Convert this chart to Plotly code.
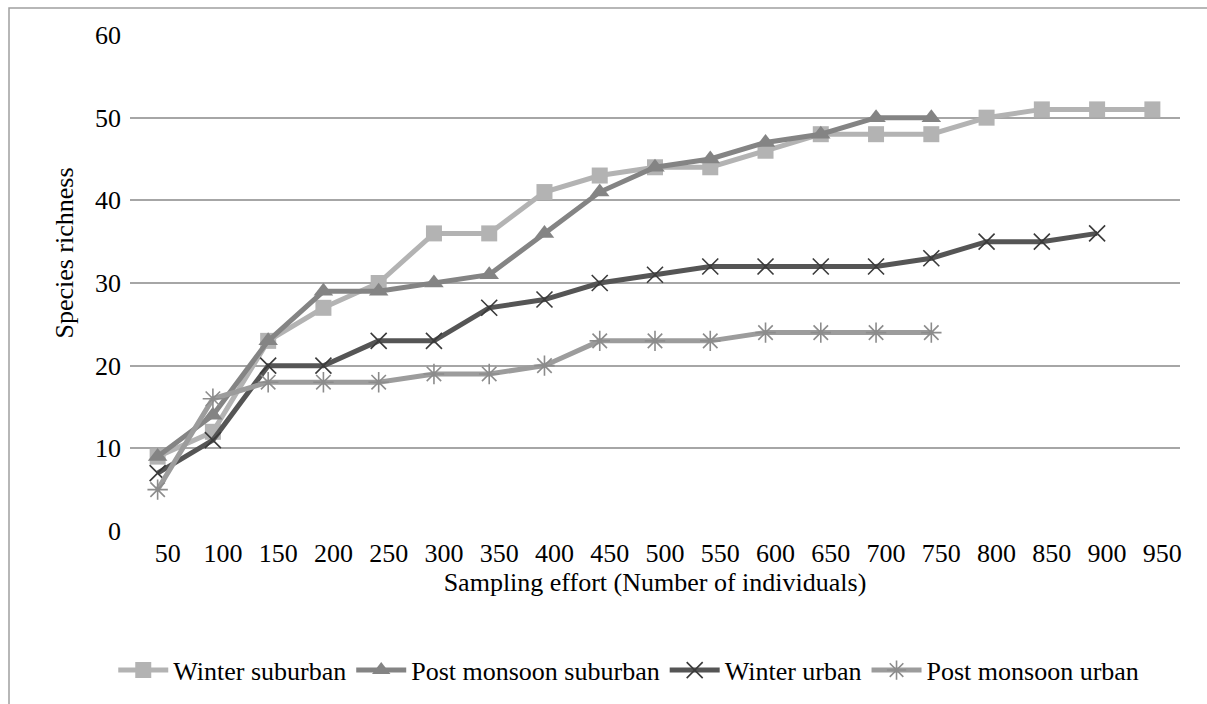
import plotly.graph_objects as go

effort = [50, 100, 150, 200, 250, 300, 350, 400, 450, 500, 550, 600, 650, 700, 750, 800, 850, 900, 950]

winter_suburban = [9, 12, 23, 27, 30, 36, 36, 41, 43, 44, 44, 46, 48, 48, 48, 50, 51, 51, 51]
post_monsoon_suburban = [9, 14, 23, 29, 29, 30, 31, 36, 41, 44, 45, 47, 48, 50, 50]
winter_urban = [7, 11, 20, 20, 23, 23, 27, 28, 30, 31, 32, 32, 32, 32, 33, 35, 35, 36]
post_monsoon_urban = [5, 16, 18, 18, 18, 19, 19, 20, 23, 23, 23, 24, 24, 24, 24]

y_ticks = [0, 10, 20, 30, 40, 50, 60]

FONT = "'Times New Roman', 'Liberation Serif', 'DejaVu Serif', serif"

fig = go.Figure()

fig.add_trace(go.Scatter(
    x=effort[:len(winter_suburban)], y=winter_suburban, name="Winter suburban",
    mode="lines+markers",
    line=dict(color="#b3b3b3", width=5),
    marker=dict(symbol="square", size=16, color="#b3b3b3", line=dict(width=0)),
))
fig.add_trace(go.Scatter(
    x=effort[:len(post_monsoon_suburban)], y=post_monsoon_suburban, name="Post monsoon suburban",
    mode="lines+markers",
    line=dict(color="#848484", width=5),
    marker=dict(symbol="triangle-up", size=17, color="#848484", line=dict(width=0)),
))
fig.add_trace(go.Scatter(
    x=effort[:len(winter_urban)], y=winter_urban, name="Winter urban",
    mode="lines+markers",
    line=dict(color="#555555", width=5),
    marker=dict(symbol="x-thin-open", size=16, color="#3a3a3a", line=dict(width=1.6, color="#3a3a3a")),
))
fig.add_trace(go.Scatter(
    x=effort[:len(post_monsoon_urban)], y=post_monsoon_urban, name="Post monsoon urban",
    mode="lines+markers",
    line=dict(color="#9c9c9c", width=5),
    marker=dict(symbol="asterisk-open", size=17, color="#8c8c8c", line=dict(width=1.6, color="#8c8c8c")),
))

fig.update_layout(
    width=1207, height=704,
    margin=dict(l=130, r=27, t=35, b=172),
    paper_bgcolor="white", plot_bgcolor="white",
    font=dict(family=FONT, size=26, color="black"),
    showlegend=True,
    legend=dict(
        orientation="h", xref="paper", yref="paper",
        x=0.475, xanchor="center", y=-0.278, yanchor="middle",
        font=dict(family=FONT, size=26, color="black"),
        itemwidth=50, tracegroupgap=0,
    ),
    annotations=[
        dict(
            text="Species richness", textangle=-90,
            xref="paper", yref="paper",
            x=(65 - 130) / 1050, y=(532 - 254) / 497,
            xanchor="center", yanchor="middle", showarrow=False,
            font=dict(family=FONT, size=26, color="black"),
        ),
    ],
    shapes=[dict(
        type="rect", xref="paper", yref="paper",
        x0=(9 - 130) / 1050, x1=1.2, y0=-0.6, y1=(532 - 8) / 497,
        line=dict(color="#a0a0a0", width=1.5), fillcolor="rgba(0,0,0,0)", layer="below",
    )],
)

fig.update_xaxes(
    range=[25, 975], tickmode="array", tickvals=effort, ticktext=[str(v) for v in effort],
    showgrid=False, zeroline=False, showline=False, ticks="",
    ticklabelshift=10, ticklabelstandoff=4,
    tickfont=dict(family=FONT, size=26, color="black"),
    title=dict(text="Sampling effort (Number of individuals)", standoff=0,
               font=dict(family=FONT, size=26, color="black")),
)
fig.update_yaxes(
    range=[0, 60], tickmode="array", tickvals=y_ticks,
    showgrid=True, gridcolor="#a6a6a6", gridwidth=2,
    zeroline=False, showline=False, ticks="",
    ticklabelstandoff=8,
    tickfont=dict(family=FONT, size=26, color="black"),
)

fig.write_html("out.html")
